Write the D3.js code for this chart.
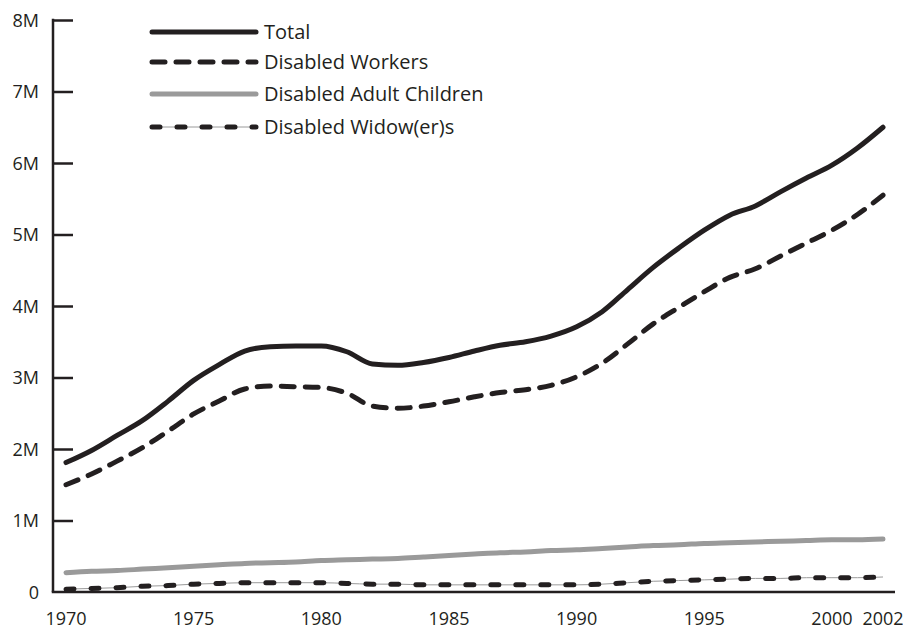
<!DOCTYPE html>
<meta charset="utf-8">
<head>
    <title>Disability beneficiaries</title>
    <style>
        html, body { margin: 0; padding: 0; background: #fff; }
        body { font-family: "Open Sans", sans-serif; color: #231f20; }
        .axis path, .axis line { stroke: #231f20; stroke-width: 2.5; }
        .axis text { font-family: "Open Sans", sans-serif; font-size: 18px; fill: #231f20; }
        .legend text { font-size: 20px; fill: #231f20; }
    </style>
</head>
<body>
    <svg width="903" height="632"></svg>
    <script src="https://cdn.jsdelivr.net/npm/d3@7"></script>
    <script>
        // values in millions, one per year 1970..2002
        const years = d3.range(1970, 2003);
        const total = [1.81, 1.98, 2.19, 2.40, 2.67, 2.96, 3.18, 3.37, 3.43, 3.44, 3.44,
                       3.36, 3.19, 3.17, 3.21, 3.28, 3.37, 3.45, 3.50, 3.58, 3.71,
                       3.92, 4.23, 4.54, 4.81, 5.06, 5.27, 5.40, 5.60, 5.79, 5.97, 6.21, 6.50];
        const workers = [1.50, 1.65, 1.83, 2.02, 2.25, 2.49, 2.67, 2.84, 2.88, 2.87, 2.86,
                         2.78, 2.60, 2.57, 2.60, 2.66, 2.73, 2.79, 2.83, 2.89, 3.01,
                         3.20, 3.47, 3.75, 3.98, 4.20, 4.40, 4.52, 4.70, 4.88, 5.06, 5.28, 5.55];
        const adultChildren = [0.27, 0.29, 0.30, 0.32, 0.34, 0.36, 0.38, 0.40, 0.41, 0.42, 0.44,
                               0.45, 0.46, 0.47, 0.49, 0.51, 0.53, 0.55, 0.56, 0.58, 0.59,
                               0.61, 0.63, 0.65, 0.66, 0.68, 0.69, 0.70, 0.71, 0.72, 0.73, 0.73, 0.74];
        const widows = [0.04, 0.05, 0.06, 0.08, 0.09, 0.11, 0.12, 0.13, 0.13, 0.13, 0.13,
                        0.12, 0.11, 0.11, 0.10, 0.10, 0.10, 0.10, 0.10, 0.10, 0.10,
                        0.11, 0.13, 0.15, 0.16, 0.17, 0.18, 0.19, 0.19, 0.20, 0.20, 0.20, 0.21];
        const xTicks = [1970, 1975, 1980, 1985, 1990, 1995, 2000, 2002];
        const yTicks = [0, 1, 2, 3, 4, 5, 6, 7, 8];
        const seriesNames = ["Total", "Disabled Workers", "Disabled Adult Children", "Disabled Widow(er)s"];

        const ink = "#231f20", grey = "#9a9a9a";
        const styles = [
            { color: ink, dash: null },
            { color: ink, dash: "13,11" },
            { color: grey, dash: null },
            { color: ink, dash: "8,17", under: true }
        ];
        const allValues = [total, workers, adultChildren, widows];

        const svg = d3.select("svg");
        const x = d3.scaleLinear().domain([1970, 2002]).range([66, 883]);
        const y = d3.scaleLinear().domain([0, 8]).range([592, 20]);
        const axisLeftX = 53, axisRightX = 895;

        // x axis
        svg.append("line")
            .attr("x1", axisLeftX - 1.25).attr("x2", axisRightX)
            .attr("y1", y(0)).attr("y2", y(0))
            .attr("stroke", ink).attr("stroke-width", 2.5);
        svg.append("g").attr("class", "axis")
            .selectAll("text").data(xTicks).join("text")
            .attr("x", d => x(d)).attr("y", 625)
            .attr("text-anchor", "middle")
            .text(d => d);

        // y axis with inward ticks
        const yAxis = d3.axisRight(y).tickValues(yTicks).tickSize(20)
            .tickFormat(d => d === 0 ? "0" : d + "M");
        const gy = svg.append("g").attr("class", "axis")
            .attr("transform", `translate(${axisLeftX},0)`)
            .call(yAxis);
        gy.select(".domain").attr("d", `M0,${y(8) - 1.25}V${y(0)}`);
        gy.selectAll(".tick text")
            .attr("x", -14).attr("dy", "0.35em")
            .attr("text-anchor", "end");
        gy.selectAll(".tick").filter(d => d === 0).select("line").remove();

        const line = d3.line()
            .x((d, i) => x(years[i]))
            .y(d => y(d))
            .curve(d3.curveMonotoneX);

        const lines = svg.append("g");
        allValues.forEach((vals, k) => {
            const st = styles[k];
            if (st.under) {
                lines.append("path").attr("d", line(vals))
                    .attr("fill", "none").attr("stroke", grey).attr("stroke-width", 1);
            }
            lines.append("path").attr("d", line(vals))
                .attr("fill", "none")
                .attr("stroke", st.color)
                .attr("stroke-width", 5)
                .attr("stroke-linecap", "round")
                .attr("stroke-linejoin", "round")
                .attr("stroke-dasharray", st.dash);
        });

        // legend
        const legendY = [32, 62, 94, 127];
        const lg = svg.append("g").attr("class", "legend");
        seriesNames.forEach((name, k) => {
            const st = styles[k];
            if (st.under) {
                lg.append("line").attr("x1", 152).attr("x2", 256)
                    .attr("y1", legendY[k]).attr("y2", legendY[k])
                    .attr("stroke", grey).attr("stroke-width", 1);
            }
            lg.append("line").attr("x1", 152).attr("x2", 256)
                .attr("y1", legendY[k]).attr("y2", legendY[k])
                .attr("stroke", st.color).attr("stroke-width", 5)
                .attr("stroke-linecap", "round")
                .attr("stroke-dasharray", st.dash);
            lg.append("text").attr("x", 264).attr("y", legendY[k])
                .attr("dy", "0.35em").text(name);
        });
    </script>
</body>
</html>
